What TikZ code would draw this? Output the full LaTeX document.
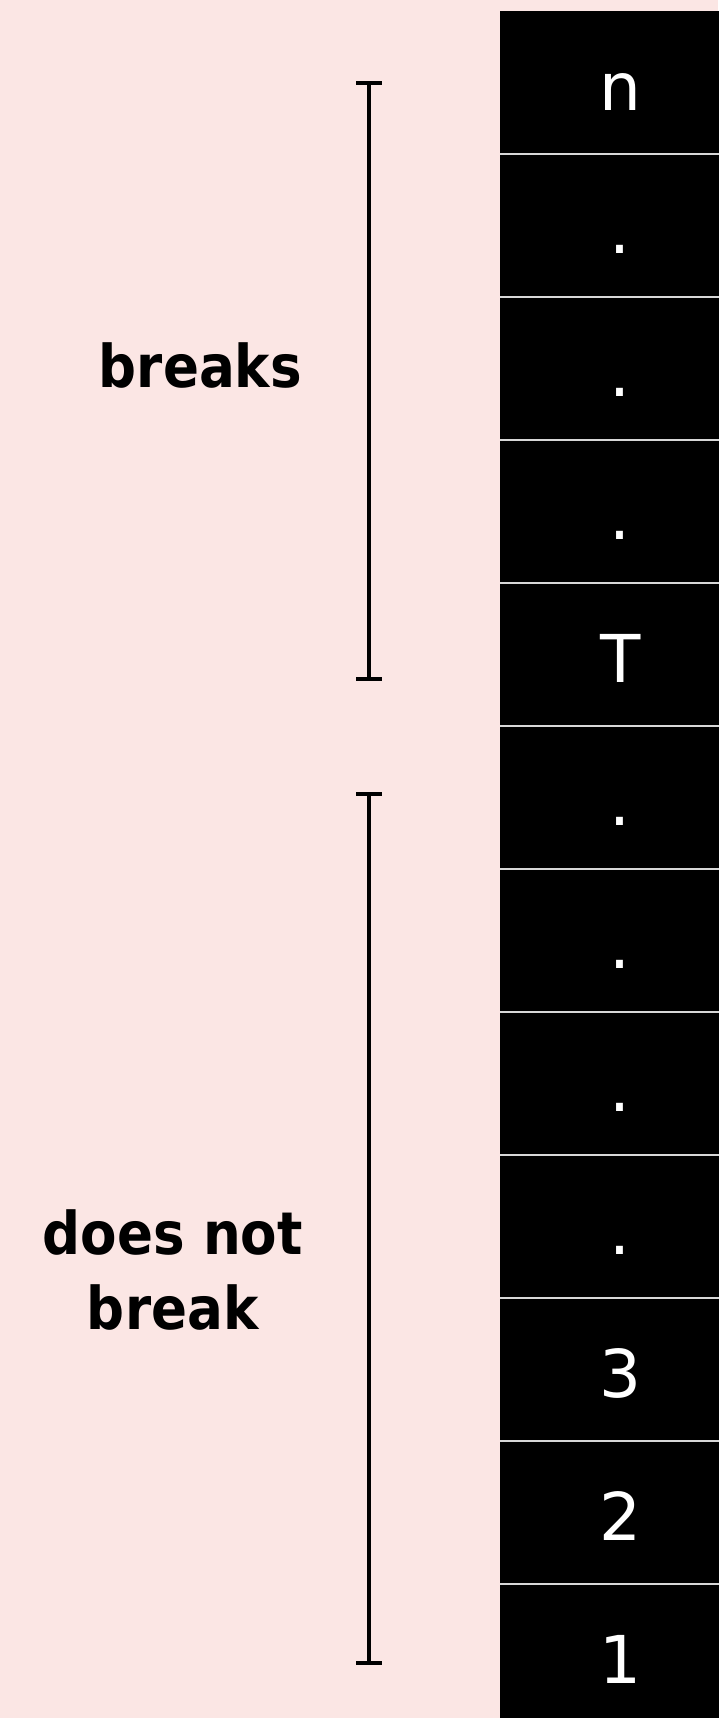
\documentclass[tikz,border=0pt]{standalone}
\usepackage{fontspec}
\newfontfamily\cellfont{DejaVu Sans}
\newfontfamily\labfont{DejaVu Sans}[FakeStretch=0.9]
\definecolor{bgpink}{RGB}{251,230,228}
\definecolor{sepgray}{RGB}{215,215,215}
\begin{document}
\begin{tikzpicture}[x=1pt,y=-1pt,
  cellbox/.style={fill=black, minimum width=240pt, minimum height=143pt, inner sep=0pt, anchor=north west,
    text=white, font=\cellfont\fontsize{66}{70}\selectfont, text height=55pt, text depth=0pt},
  sepline/.style={draw=sepgray, line width=2pt},
  bracketline/.style={draw=black, line width=4pt},
  labtext/.style={font=\labfont\bfseries\fontsize{59}{75}\selectfont, align=center, inner sep=0pt}]
\fill[bgpink] (0,0) rectangle (718,1718);
\useasboundingbox (0,0) rectangle (718,1718);
\foreach \t [count=\i from 0] in {n,.,.,.,T,.,.,.,.,3,2,1} {
  \node[cellbox] (c\i) at (500,{11+143*\i}) {\t};
}
\foreach \i in {0,...,10} {
  \draw[sepline] (c\i.south west) -- (c\i.south east);
}
\coordinate (b1t) at (369,83);
\coordinate (b1b) at (369,679);
\coordinate (b2t) at (369,794);
\coordinate (b2b) at (369,1663);
\draw[bracketline] (b1t) -- (b1b);
\draw[bracketline] ([xshift=-13pt]b1t) -- ([xshift=13pt]b1t);
\draw[bracketline] ([xshift=-13pt]b1b) -- ([xshift=13pt]b1b);
\draw[bracketline] (b2t) -- (b2b);
\draw[bracketline] ([xshift=-13pt]b2t) -- ([xshift=13pt]b2t);
\draw[bracketline] ([xshift=-13pt]b2b) -- ([xshift=13pt]b2b);
\node[labtext, anchor=base east] (lbreaks) at (302,387) {breaks};
\node[labtext, anchor=east] (lnot) at (303,1269.5) {does not\\break};
\end{tikzpicture}
\end{document}
